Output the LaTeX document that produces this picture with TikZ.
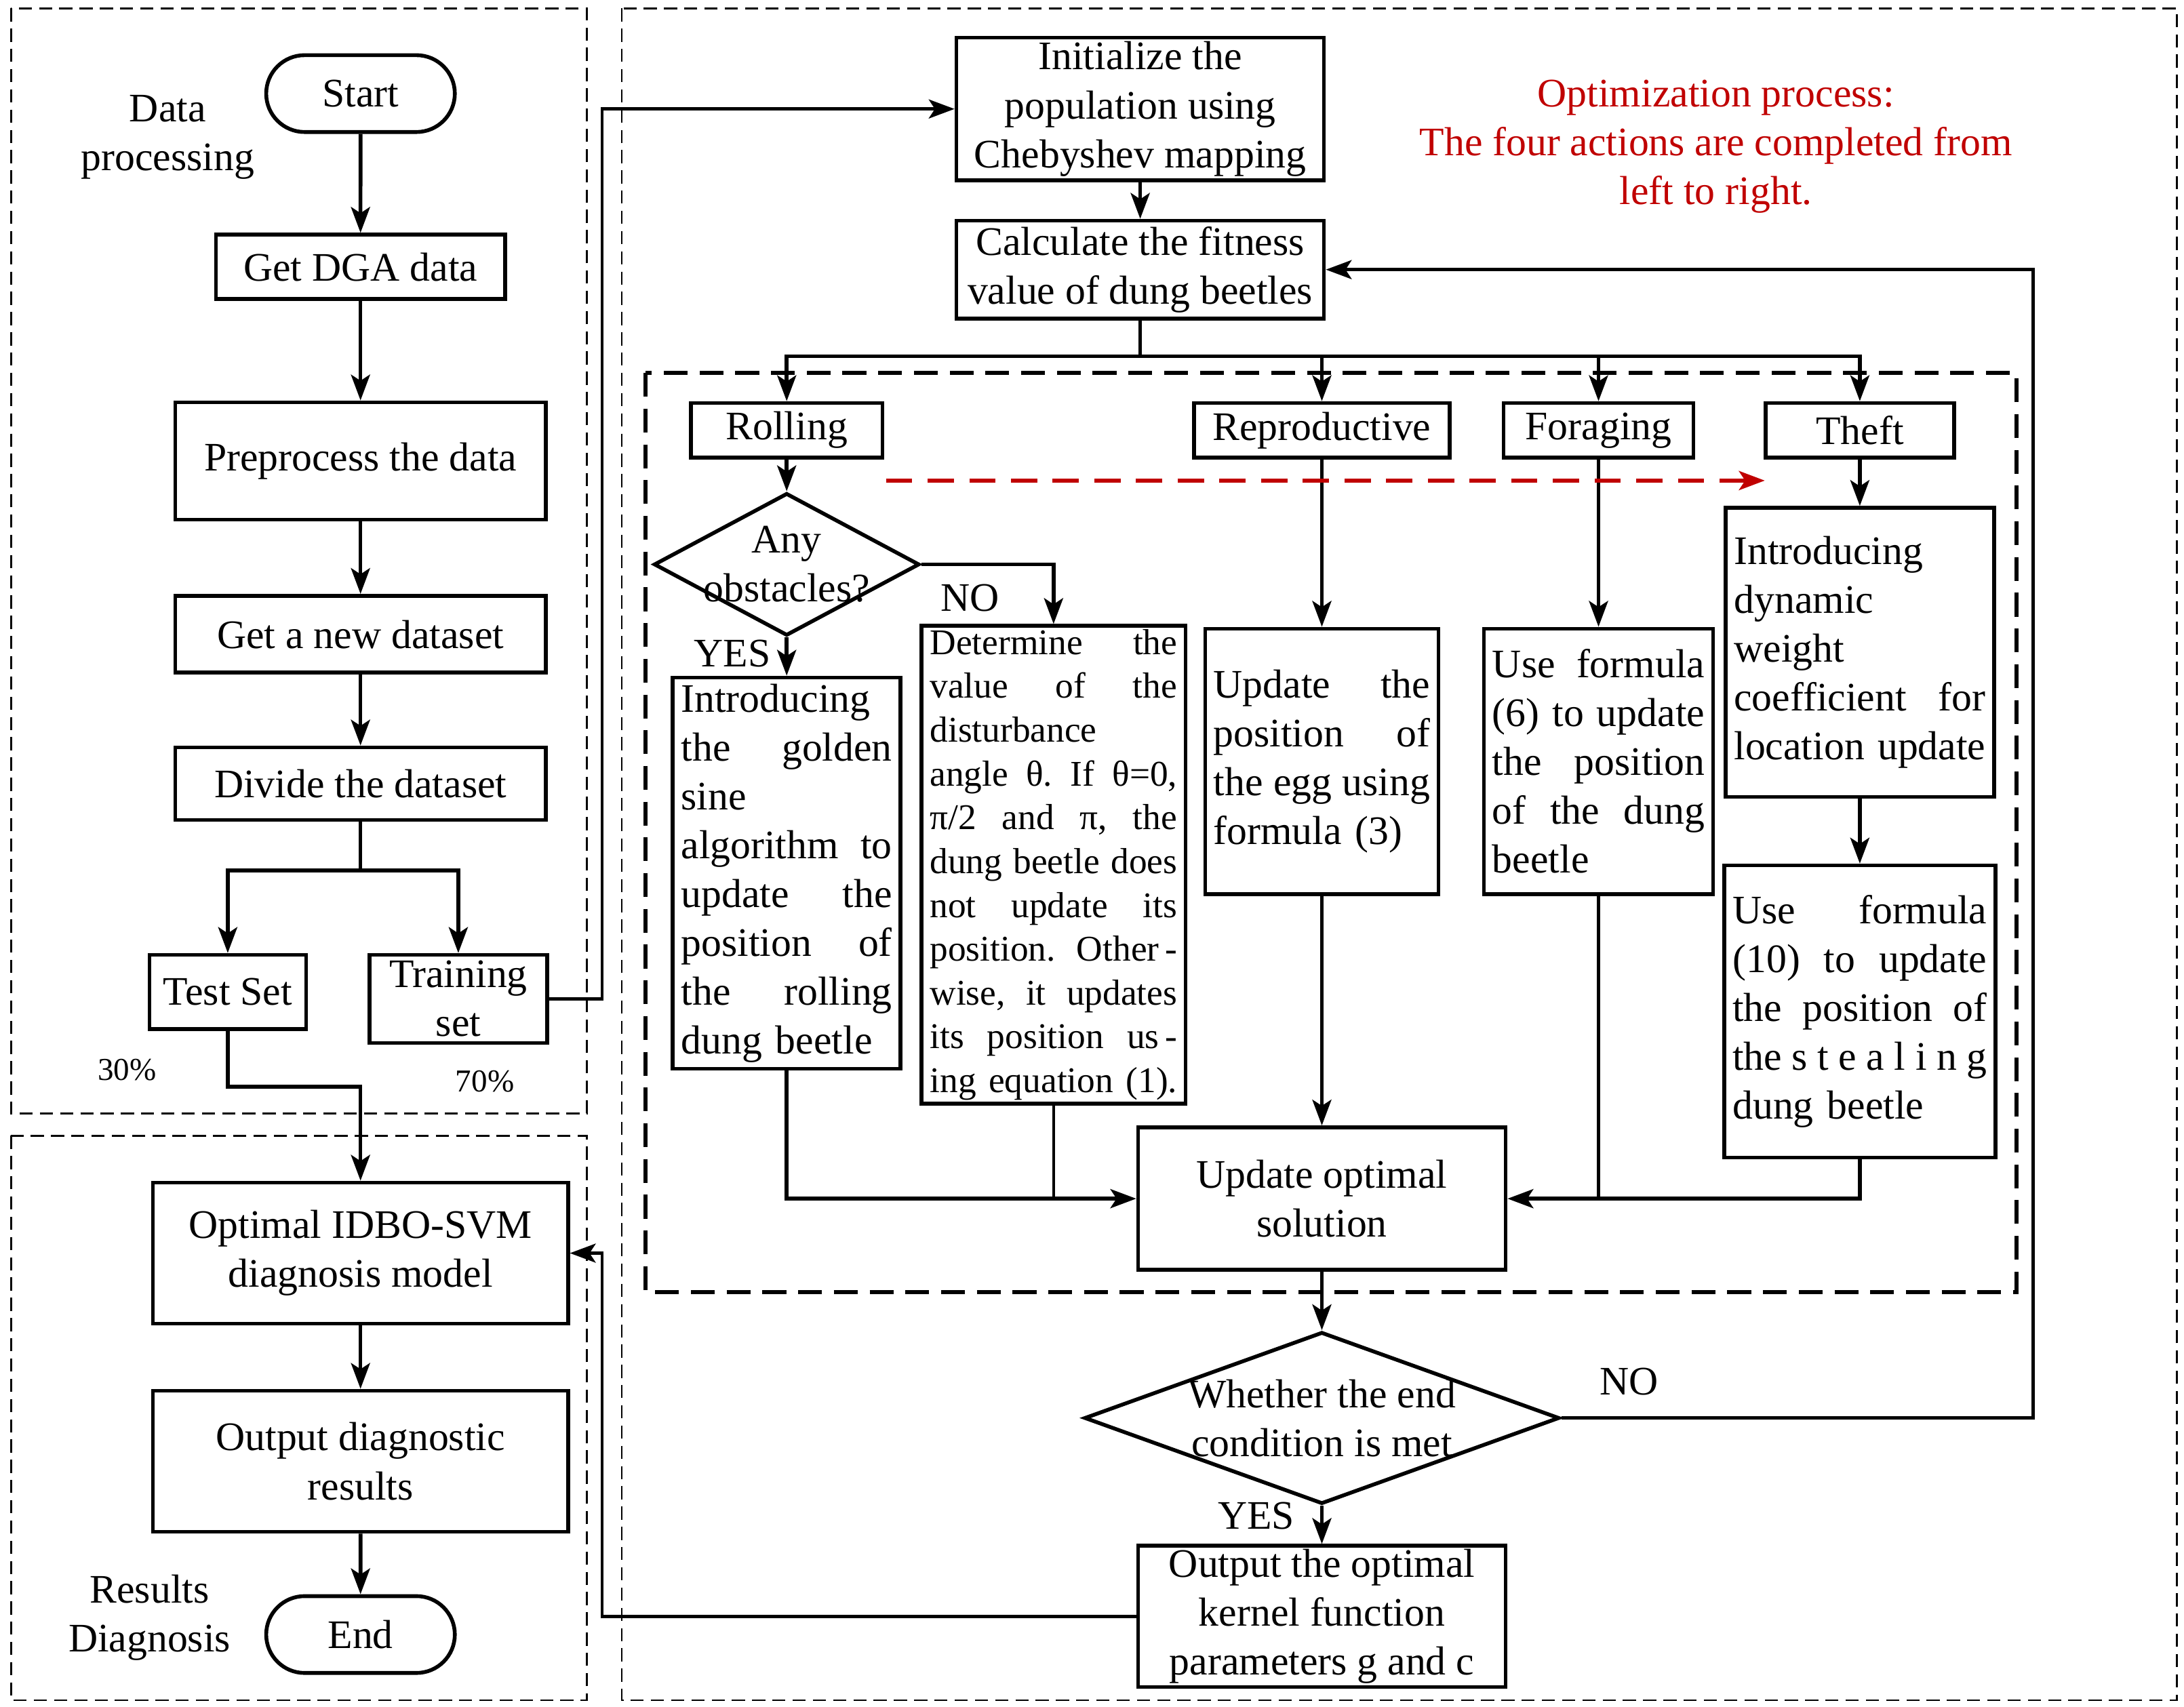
\documentclass[tikz,border=0pt]{standalone}
\usepackage{fontspec}
\setmainfont{Liberation Serif}
\usetikzlibrary{arrows.meta,shapes.geometric,shapes.misc}
\newlength{\px}
\setlength{\px}{0.020608cm}
\newlength{\jw}
\definecolor{procred}{RGB}{192,0,0}
\tikzstyle{block}=[draw,line width=1.6pt,inner sep=0pt,align=center]
\tikzstyle{terminal}=[draw,line width=1.6pt,rounded rectangle,minimum width=135\px,minimum height=55\px,inner sep=0pt]
\tikzstyle{decision}=[draw,line width=1.6pt,diamond,inner sep=0pt]
\tikzset{textblock/.style={draw,line width=1.6pt,inner xsep=6\px,inner ysep=0pt,align=left,text width=#1\px,
	execute at begin node={\setlength{\jw}{#1\px}\frenchspacing}}}
\tikzstyle{edge}=[draw,line width=1.6pt,-{Stealth[length=0.38cm,width=0.28cm,inset=0.09cm]}]
\tikzstyle{thin edge}=[edge,line width=1.3pt]
\tikzstyle{line}=[draw,line width=1.6pt]
\tikzstyle{thin line}=[draw,line width=1.3pt]
\tikzstyle{frame}=[draw,line width=0.8pt,dash pattern=on 5.5pt off 3pt]
\tikzstyle{inner frame}=[draw,line width=1.8pt,dash pattern=on 10pt off 5pt]
\tikzstyle{order arrow}=[draw,procred,line width=1.8pt,dash pattern=on 11pt off 6.5pt,-{Stealth[length=0.38cm,width=0.28cm,inset=0.09cm]}]
\tikzstyle{tag}=[inner sep=0pt,align=center]
\newcommand{\fillline}[1]{\makebox[\jw][s]{\spaceskip=\fontdimen2\font plus 1fil minus 0.3\fontdimen2\font\relax #1}}

\begin{document}
\begin{tikzpicture}[x=0.020608cm, y=-0.020608cm, font=\fontsize{17}{20.5}\selectfont]
	\useasboundingbox (0,0) rectangle (1563,1221.4);
	% Dashed frames of the three stages
	\draw[frame] (8,6) rectangle (420,797);
	\draw[frame] (8,813) rectangle (420,1217);
	\draw[frame] (445,6) rectangle (1558,1217);
	\draw[inner frame] (462,267) rectangle (1443,925);

	% Data processing and diagnosis column
	\node[terminal] (start) at (258,67) {Start};
	\foreach \pos/\name/\w/\h/\txt in {{(258,191)/dga/207/46/Get DGA data}, {(258,330)/prep/265/84/Preprocess the data},
		{(258,454)/newset/265/55/Get a new dataset}, {(258,561)/divide/265/52/Divide the dataset},
		{(163,710)/test/112/53/Test Set}, {(328,715)/train/127/63/Training\\set},
		{(258,897)/model/297/101/Optimal IDBO-SVM\\diagnosis model}, {(258,1046)/diag/297/101/Output diagnostic\\results}}
	\node[block, minimum width=\w\px, minimum height=\h\px] (\name) at \pos {\txt};
	\node[terminal] (endn) at (258,1170) {End};
	\node[tag] (datalbl) at (120,98) {Data\\processing};
	\node[tag] (reslbl) at (107,1158) {Results\\Diagnosis};
	\node[tag, font=\fontsize{13.4}{16}\selectfont] (pct30) at (91,766) {30\%};
	\node[tag, font=\fontsize{13.4}{16}\selectfont] (pct70) at (347,774) {70\%};

	% Optimization column
	\foreach \pos/\name/\w/\h/\txt in {{(816,78)/init/263/102/Initialize the\\population using\\Chebyshev mapping}, {(816,193)/calc/263/70/Calculate the fitness\\value of dung beetles},
		{(563,308)/roll/137/39/Rolling}, {(946,308)/repro/183/39/Reproductive}, {(1144,308)/forag/136/39/Foraging}, {(1331,308)/theft/135/39/Theft},
		{(946,858)/best/263/102/Update optimal\\solution}, {(946,1157)/outp/263/101/Output the optimal\\kernel function\\parameters g and c}}
	\node[block, minimum width=\w\px, minimum height=\h\px] (\name) at \pos {\txt};
	\node[decision, minimum width=190\px, minimum height=102\px, label={[name=obsttxt, align=center]center:Any\\obstacles?}] (obst) at (563,404) {};
	\node[decision, minimum width=340\px, minimum height=123\px, label={[name=endqtxt, align=center]center:Whether the end\\condition is met}] (endq) at (946,1015) {};
	\node[textblock=151, minimum height=280\px] (golden) at (563,625) {Introducing\\ \fillline{the golden}\\ sine\\ \fillline{algorithm to}\\ \fillline{update the}\\ \fillline{position of}\\ \fillline{the rolling}\\ dung beetle};
	\node[textblock=177, minimum height=342\px, font=\fontsize{15.2}{18.4}\selectfont] (determ) at (754,619) {\fillline{Determine the}\\ \fillline{value of the}\\ disturbance\\ \fillline{angle θ. If θ=0,}\\ \fillline{π/2 and π, the}\\ \fillline{dung beetle does}\\ \fillline{not update its}\\ \fillline{position. Other\,-}\\ \fillline{wise, it updates}\\ \fillline{its position us\,-}\\ \fillline{ing equation (1).}};
	\node[textblock=155, minimum height=190\px] (egg) at (946,545) {\fillline{Update the}\\ \fillline{position of}\\ \fillline{the egg using}\\ formula (3)};
	\node[textblock=152, minimum height=190\px] (form6) at (1144,545) {\fillline{Use formula}\\ \fillline{(6) to update}\\ \fillline{the position}\\ \fillline{of the dung}\\ beetle};
	\node[textblock=180, minimum height=207\px] (weight) at (1331,467) {Introducing\\ dynamic\\ weight\\ \fillline{coefficient for}\\ \fillline{location update}};
	\node[textblock=182, minimum height=209\px] (form10) at (1331,724) {\fillline{Use formula}\\ \fillline{(10) to update}\\ \fillline{the position of}\\ \fillline{\spaceskip=0.1em plus 1fil the s t e a l i n g}\\ dung beetle};
	\node[tag] (yes1) at (524,468) {YES};
	\node[tag] (no1) at (694,428) {NO};
	\node[tag] (no2) at (1166,989) {NO};
	\node[tag] (yes2) at (899,1085) {YES};
	\node[tag, text=procred] (note) at (1228,105) {Optimization process:\\The four actions are completed from\\left to right.};

	% Bend points
	\coordinate (fork) at (258,623);
	\coordinate (split) at (816,255);
	\coordinate (testbend) at (163,778);
	\coordinate (trainbend) at (431,715);
	\coordinate (loopbend) at (1455,1015);
	\coordinate (outbend) at (431,1157);
	\coordinate (redA) at (634,344);
	\coordinate (redB) at (1263,344);

	% Straight connections
	\foreach \source/\dest in {start/dga, dga/prep, prep/newset, newset/divide, model/diag, diag/endn, init/calc,
		roll/obst, obst/golden, repro/egg, egg/best, forag/form6, theft/weight, weight/form10, best/endq, endq/outp}
	\path[edge] (\source) -- (\dest);

	% Branches
	\path[line] (divide) -- (fork);
	\foreach \dest in {test, train}
	\path[edge] (fork) -| (\dest);
	\path[thin line] (calc) -- (split);
	\foreach \dest in {roll, repro, forag, theft}
	\path[edge] (split) -| (\dest);

	% Elbow connections
	\path[edge] (obst.east) -| (determ);
	\path[edge] (golden) |- (best);
	\path[thin line] (determ) -- (determ.south |- best.west);
	\path[thin line] (form6) -- (form6.south |- best.east);
	\path[edge] (form10) |- (best);
	\path[edge] (test) -- (testbend) -| (model);
	\path[thin edge] (train) -- (trainbend) |- (init);
	\path[thin edge] (endq.east) -- (loopbend) |- (calc);
	\path[thin edge] (outp.west) -- (outbend) |- (model);
	\path[order arrow] (redA) -- (redB);
\end{tikzpicture}
\end{document}
